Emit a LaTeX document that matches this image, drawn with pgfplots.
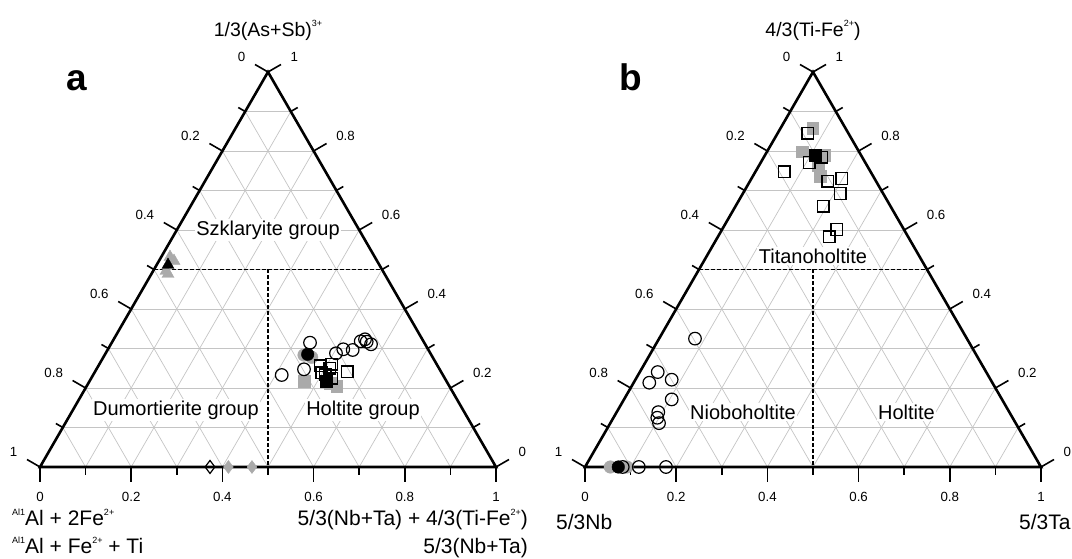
\documentclass[border=0pt]{standalone}
\usepackage{pgfplots}
\usepackage{pgfplotstable}
\pgfplotsset{compat=1.18}
\usepackage{fontspec}
\setmainfont{Liberation Sans}

\definecolor{gr}{RGB}{170,170,170}
\definecolor{gridc}{RGB}{196,196,196}

\newcommand\sups[1]{\raisebox{0.95ex}{\fontsize{9}{9}\selectfont #1}}
\newcommand\tlf{\fontsize{13.3}{15}\selectfont}
\newcommand\bigf{\fontsize{20}{24}\selectfont}
\newcommand\titf{\fontsize{19.5}{23}\selectfont}
\newcommand\botf{\fontsize{21}{25}\selectfont}

% ternary data: R = bottom (right-corner) fraction, T = top fraction
\pgfplotstableread{
R T
0.4348 0.3147
0.4136 0.2329
0.4553 0.2473
0.5052 0.2878
0.5161 0.2980
0.5376 0.2962
0.5442 0.3182
0.5511 0.3233
0.5578 0.3172
0.5706 0.3106
}\aCircOpen
\pgfplotstableread{
R T
0.4444 0.2853
}\aCircBlack
\pgfplotstableread{
R T
0.4372 0.2835
0.4570 0.2777
}\aCircGray
\pgfplotstableread{
R T
0.4862 0.2557
0.5097 0.2600
0.5110 0.2499
0.4984 0.2387
0.5274 0.2246
0.5533 0.2413
0.5086 0.2329
}\aSqOpen
\pgfplotstableread{
R T
0.5184 0.2177
}\aSqBlack
\pgfplotstableread{
R T
0.4701 0.2177
0.5481 0.2051
0.5300 0.2119
}\aSqGray
\pgfplotstableread{
R T
0.0250 0.5114
}\aTriBlack
\pgfplotstableread{
R T
0.0193 0.5316
0.0331 0.5215
0.0282 0.4962
0.0364 0.4886
}\aTriGray
\pgfplotstableread{
R T
0.3728 0
}\aDiaOpen
\pgfplotstableread{
R T
0.4132 0
0.4649 0
}\aDiaGray

\pgfplotstableread{
R T
0.0661 0.8446
0.1272 0.7838
0.1064 0.7711
0.0628 0.7473
0.1704 0.7237
0.1977 0.7305
0.2130 0.6925
0.1925 0.6603
0.2514 0.6013
0.2445 0.5825
}\bSqOpen
\pgfplotstableread{
R T
0.1096 0.7896
}\bSqBlack
\pgfplotstableread{
R T
0.0707 0.8573
0.0775 0.7980
0.1293 0.7896
0.1472 0.7364
0.1295 0.7643
}\bSqGray
\pgfplotstableread{
R T
0.0787 0.3250
0.0393 0.2403
0.0343 0.2134
0.0796 0.2210
0.1046 0.1711
0.0913 0.1389
0.0962 0.1247
0.1068 0.1110
0.1180 0
0.1776 0
0.0827 0
}\bCircOpen
\pgfplotstableread{
R T
0.0730 0
}\bCircBlack
\pgfplotstableread{
R T
0.0555 0
0.0919 0
}\bCircGray

\newcommand\tp[2]{\addplot[only marks,#1] table[x expr=\thisrow{R}+0.5*\thisrow{T}, y=T] {#2};}

\tikzset{
  gridl/.style={draw=gridc, line width=0.7pt},
  dashl/.style={black, line width=1.5pt, dash pattern=on 3.5pt off 2.5pt},
  framel/.style={black, line width=2.6pt, line join=miter},
  tickl/.style={black, line width=1.6pt},
  tlab/.style={inner sep=0pt, font=\tlf},
}

\newcommand\ternframe{%
  \pgfplotsinvokeforeach{1,...,9}{%
    \draw[gridl] (axis cs:{##1/20},{##1/10}) -- (axis cs:{1-##1/20},{##1/10});
    \draw[gridl] (axis cs:{##1/10},0) -- (axis cs:{0.5+##1/20},{1-##1/10});
    \draw[gridl] (axis cs:{1-##1/10},0) -- (axis cs:{0.5-##1/20},{1-##1/10});
  }%
  \draw[dashl] (axis cs:0.25,0.5) -- (axis cs:0.75,0.5);
  \draw[dashl] (axis cs:0.5,0.5) -- (axis cs:0.5,0);
  \pgfplotsinvokeforeach{0,2,...,10}{%
    \draw[tickl] (axis cs:{##1/10},0) -- ++(0,-15pt);
    \draw[tickl] (axis cs:{##1/20},{##1/10}) -- ++(150:15pt);
    \draw[tickl] (axis cs:{1-##1/20},{##1/10}) -- ++(30:15pt);
  }%
  \pgfplotsinvokeforeach{1,3,...,9}{%
    \draw[tickl] (axis cs:{##1/10},0) -- ++(0,-8pt);
    \draw[tickl] (axis cs:{##1/20},{##1/10}) -- ++(150:8pt);
    \draw[tickl] (axis cs:{1-##1/20},{##1/10}) -- ++(30:8pt);
  }%
  \draw[framel] (axis cs:0,0) -- (axis cs:1,0) -- (axis cs:0.5,1) -- cycle;
  \node[tlab,anchor=north] at ([yshift=-25pt]axis cs:0,0) {0};
  \node[tlab,anchor=north] at ([yshift=-25pt]axis cs:0.2,0) {0.2};
  \node[tlab,anchor=north] at ([yshift=-25pt]axis cs:0.4,0) {0.4};
  \node[tlab,anchor=north] at ([yshift=-25pt]axis cs:0.6,0) {0.6};
  \node[tlab,anchor=north] at ([yshift=-25pt]axis cs:0.8,0) {0.8};
  \node[tlab,anchor=north] at ([yshift=-25pt]axis cs:1,0) {1};
  \node[tlab,anchor=east] at ([shift={(-22.5pt,15pt)}]axis cs:0.5,1) {0};
  \node[tlab,anchor=east] at ([shift={(-22.5pt,15pt)}]axis cs:0.4,0.8) {0.2};
  \node[tlab,anchor=east] at ([shift={(-22.5pt,15pt)}]axis cs:0.3,0.6) {0.4};
  \node[tlab,anchor=east] at ([shift={(-22.5pt,15pt)}]axis cs:0.2,0.4) {0.6};
  \node[tlab,anchor=east] at ([shift={(-22.5pt,15pt)}]axis cs:0.1,0.2) {0.8};
  \node[tlab,anchor=east] at ([shift={(-22.5pt,15pt)}]axis cs:0,0) {1};
  \node[tlab,anchor=west] at ([shift={(22.5pt,15pt)}]axis cs:0.5,1) {1};
  \node[tlab,anchor=west] at ([shift={(22.5pt,15pt)}]axis cs:0.6,0.8) {0.8};
  \node[tlab,anchor=west] at ([shift={(22.5pt,15pt)}]axis cs:0.7,0.6) {0.6};
  \node[tlab,anchor=west] at ([shift={(22.5pt,15pt)}]axis cs:0.8,0.4) {0.4};
  \node[tlab,anchor=west] at ([shift={(22.5pt,15pt)}]axis cs:0.9,0.2) {0.2};
  \node[tlab,anchor=west] at ([shift={(22.5pt,15pt)}]axis cs:1,0) {0};
}

\pgfplotsset{
  tern/.style={
    scale only axis, width=456pt, height=395pt,
    xmin=0, xmax=1, ymin=0, ymax=1,
    hide axis, clip=false, anchor=south west,
  },
}

\begin{document}
\begin{tikzpicture}[x=1pt,y=1pt]
\useasboundingbox (0,0) rectangle (1072,559);

% ---------------- panel a ----------------
\begin{axis}[tern, at={(40pt,92pt)}]
\ternframe
\node[font=\bigf, fill=white, inner sep=1.5pt] at (axis cs:0.5,0.6) {Szklaryite group};
\node[font=\bigf, fill=white, inner sep=1.5pt] at (axis cs:0.2982,0.1443) {Dumortierite group};
\node[font=\bigf, fill=white, inner sep=1.5pt] at (axis cs:0.7083,0.1443) {Holtite group};
\node[font=\titf] at ([yshift=42pt]axis cs:0.5,1) {1/3(As+Sb)\sups{3+}};
\tp{mark=*, mark size=6.3pt, color=gr}{\aCircGray}
\tp{mark=square*, mark size=5.8pt, color=gr}{\aSqGray}
\tp{mark=triangle*, mark size=7pt, color=gr}{\aTriGray}
\tp{mark=diamond*, mark size=6.5pt, color=gr}{\aDiaGray}
\tp{mark=o, mark size=6.3pt, black, mark options={line width=1.2pt}}{\aCircOpen}
\tp{mark=square, mark size=5.8pt, black, mark options={line width=1.4pt}}{\aSqOpen}
\tp{mark=diamond, mark size=6.5pt, black, mark options={line width=1.2pt}}{\aDiaOpen}
\tp{mark=*, mark size=6.3pt, black}{\aCircBlack}
\tp{mark=square*, mark size=5.8pt, black}{\aSqBlack}
\tp{mark=triangle*, mark size=7pt, black}{\aTriBlack}
\end{axis}

% ---------------- panel b ----------------
\begin{axis}[tern, at={(585pt,92pt)}]
\ternframe
\node[font=\bigf, fill=white, inner sep=1.5pt] at (axis cs:0.5,0.5342) {Titanoholtite};
\node[font=\bigf, fill=white, inner sep=1.5pt] at (axis cs:0.3465,0.1392) {Nioboholtite};
\node[font=\bigf, fill=white, inner sep=1.5pt] at (axis cs:0.7050,0.1392) {Holtite};
\node[font=\titf] at ([yshift=42pt]axis cs:0.5,1) {4/3(Ti-Fe\sups{2+})};
\tp{mark=*, mark size=6.3pt, color=gr}{\bCircGray}
\tp{mark=square*, mark size=5.8pt, color=gr}{\bSqGray}
\tp{mark=o, mark size=6.3pt, black, mark options={line width=1.2pt}}{\bCircOpen}
\tp{mark=square, mark size=5.8pt, black, mark options={line width=1.4pt}}{\bSqOpen}
\tp{mark=*, mark size=6.3pt, black}{\bCircBlack}
\tp{mark=square*, mark size=5.8pt, black}{\bSqBlack}
\end{axis}

% panel letters and corner labels
\node[anchor=base west, inner sep=0pt, font=\fontsize{37}{40}\selectfont\bfseries] at (66,468) {a};
\node[anchor=base west, inner sep=0pt, font=\fontsize{37}{40}\selectfont\bfseries] at (619,468) {b};
\node[anchor=base west, inner sep=0pt, font=\botf] at (12,33) {\sups{Al1}Al + 2Fe\sups{2+}};
\node[anchor=base west, inner sep=0pt, font=\botf] at (12,5) {\sups{Al1}Al + Fe\sups{2+} + Ti};
\node[anchor=base east, inner sep=0pt, font=\botf] at (528,33) {5/3(Nb+Ta) + 4/3(Ti-Fe\sups{2+})};
\node[anchor=base east, inner sep=0pt, font=\botf] at (528,5) {5/3(Nb+Ta)};
\node[anchor=base west, inner sep=0pt, font=\botf] at (556,29) {5/3Nb};
\node[anchor=base west, inner sep=0pt, font=\botf] at (1019,29) {5/3Ta};
\end{tikzpicture}
\end{document}
